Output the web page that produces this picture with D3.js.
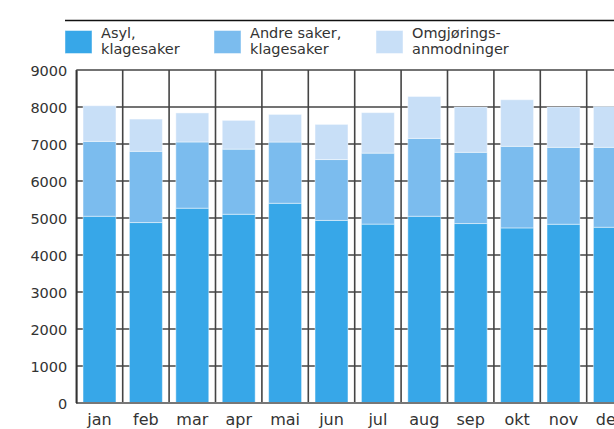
<!DOCTYPE html>
<html><head><meta charset="utf-8">
<script src="https://cdn.jsdelivr.net/npm/d3@7"></script>
<style>html,body{margin:0;padding:0;background:#fff}svg{display:block}text{font-family:"DejaVu Sans",Lato,sans-serif;fill:#333}</style>
</head><body><svg id="c" width="614" height="429"></svg>
<script>
const months = ["jan","feb","mar","apr","mai","jun","jul","aug","sep","okt","nov","des"];
const asyl  = [5047,4877,5265,5101,5398,4935,4835,5047,4850,4732,4831,4750];
const andre = [2024,1925,1790,1760,1655,1645,1918,2105,1925,2205,2079,2160];
const omgj  = [ 964, 872, 785, 778, 747, 950,1095,1133,1225,1260,1090,1106];
const seriesNames = [["Asyl,","klagesaker"],["Andre saker,","klagesaker"],["Omgjørings-","anmodninger"]];
const colors = ["#37a7e8","#7bbcee","#c8dff7"];
const yTicks = [0,1000,2000,3000,4000,5000,6000,7000,8000,9000];

const svg = d3.select("#c");
const x0 = 76.3, stepW = 46.4;
const x = d3.scaleBand().domain(months).range([x0, x0 + stepW*months.length]).paddingInner(0.29).paddingOuter(0.145);
const y = d3.scaleLinear().domain([0,9000]).range([403,70]);

// top rule
svg.append("line").attr("x1",65).attr("x2",614).attr("y1",20.5).attr("y2",20.5).attr("stroke","#111").attr("stroke-width",1.5);

// grid
const g = svg.append("g");
g.selectAll("line.h").data(yTicks.filter(d=>d>0)).join("line")
  .attr("x1",x0).attr("x2",614).attr("y1",d=>y(d)).attr("y2",d=>y(d))
  .attr("stroke","#444").attr("stroke-width",1.4);
const bounds = d3.range(months.length+1).map(i=>x.range()[0]+i*x.step());
g.selectAll("line.v").data(bounds).join("line")
  .attr("x1",d=>d).attr("x2",d=>d).attr("y1",y(9000)).attr("y2",y(0))
  .attr("stroke","#444").attr("stroke-width",1.6);

// stacked bars
const data = months.map((m,i)=>({m, a:asyl[i], b:andre[i], c:omgj[i]}));
const stack = d3.stack().keys(["a","b","c"])(data);
svg.append("g").selectAll("g").data(stack).join("g").attr("fill",(d,i)=>colors[i])
  .selectAll("rect").data(d=>d).join("rect")
  .attr("x",d=>x(d.data.m)).attr("width",x.bandwidth())
  .attr("y",d=>y(d[1])).attr("height",d=>y(d[0])-y(d[1]))
  .attr("stroke","rgba(255,255,255,0.45)").attr("stroke-width",1);

// x axis line
svg.append("line").attr("x1",x0).attr("x2",614).attr("y1",y(0)).attr("y2",y(0)).attr("stroke","#777").attr("stroke-width",2);

// y axis
const ya = svg.append("g").attr("transform",`translate(${x0},0)`).call(d3.axisLeft(y).tickValues(yTicks).tickSize(0).tickPadding(9).tickFormat(d3.format("d")));
ya.select(".domain").attr("stroke","#333").attr("stroke-width",1.6);
ya.selectAll("text").style("font-size","14.5px").style("font-family","'DejaVu Sans'").attr("fill","#333").attr("dy","0.36em");

// x axis labels
const xa = svg.append("g").attr("transform",`translate(0,${y(0)})`).call(d3.axisBottom(x).tickSize(0).tickPadding(11));
xa.select(".domain").remove();
xa.selectAll("text").style("font-size","16px").style("font-family","'DejaVu Sans'").attr("fill","#333");

// legend
const legX = [65,214,376];
const lg = svg.append("g").selectAll("g").data(seriesNames).join("g").attr("transform",(d,i)=>`translate(${legX[i]},0)`);
lg.append("rect").attr("x",0).attr("y",30.5).attr("width",27).attr("height",23).attr("fill",(d,i)=>colors[i])
  .attr("stroke","rgba(255,255,255,0.45)").attr("stroke-width",1);
lg.selectAll("text").data(d=>d).join("text").attr("x",36).attr("y",(d,i)=>38+i*15.5)
  .style("font-size","14.5px").text(d=>d);
</script></body></html>
